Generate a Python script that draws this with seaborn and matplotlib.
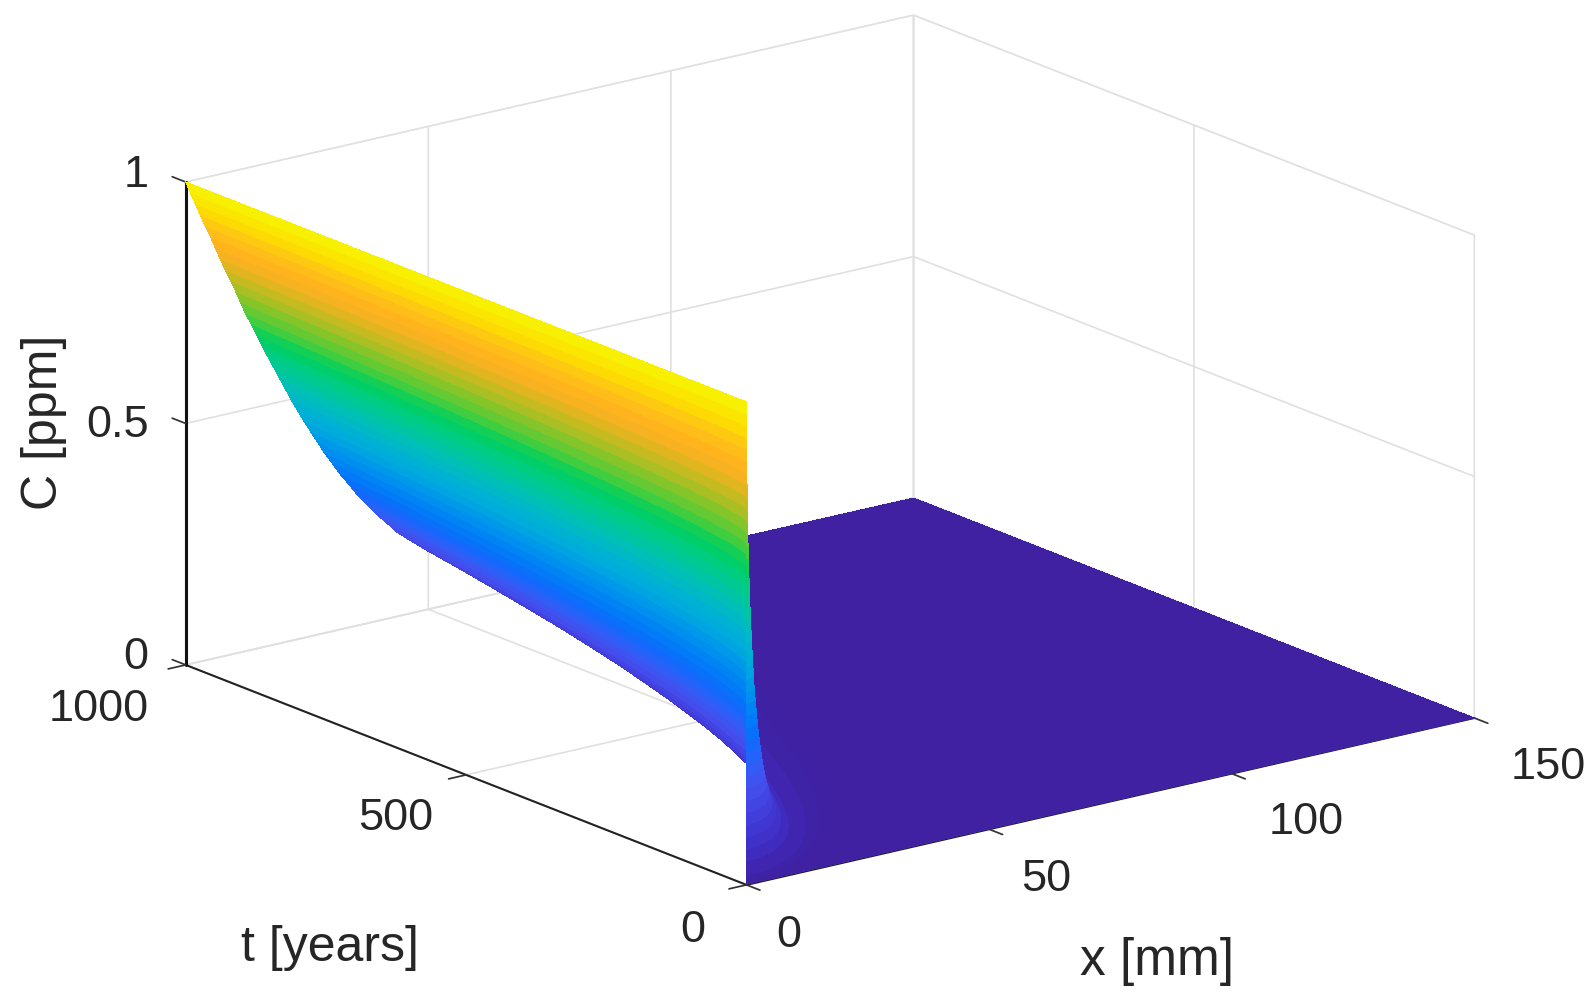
import numpy as np
import matplotlib
matplotlib.use("Agg")
import matplotlib.pyplot as plt
from mpl_toolkits.mplot3d import proj3d
import seaborn as sns

# concentration levels and how deep each one has reached at t = 1000 years
conc_levels = [1.0, 0.975, 0.95, 0.925, 0.9, 0.875, 0.85, 0.825, 0.8, 0.775, 0.75, 0.725, 0.7,
               0.675, 0.65, 0.625, 0.6, 0.575, 0.55, 0.525, 0.5, 0.475, 0.45, 0.425, 0.4,
               0.375, 0.35, 0.325, 0.3, 0.275, 0.25, 0.225, 0.2, 0.175, 0.15, 0.125, 0.1,
               0.075, 0.05, 0.02, 0.01, 0.005, 0.001]
depth_1000 = [0.0, 1.0, 2.0, 3.0, 4.0, 5.1, 6.1, 7.1, 8.1, 9.2, 10.3, 11.3, 12.3,
              13.5, 14.6, 15.7, 16.9, 18.1, 19.3, 20.5, 21.7, 23.0, 24.3, 25.7, 27.1,
              28.5, 30.1, 31.6, 33.4, 35.1, 37.0, 39.0, 41.3, 43.5, 46.4, 49.4, 53.0,
              57.3, 63.0, 74.8, 82.9, 90.3, 105.8]

# time rows and the width of the front at that time, relative to t = 1000
t_years = [0, 1, 2, 5, 10, 20, 30, 50, 75, 100, 150, 200, 250, 300, 350, 400, 450, 500,
           550, 600, 650, 700, 750, 800, 850, 900, 950, 1000]
front_width = [0.0, 0.032, 0.045, 0.071, 0.100, 0.141, 0.173, 0.224, 0.274, 0.316, 0.387, 0.447,
               0.500, 0.548, 0.592, 0.632, 0.671, 0.707, 0.742, 0.775, 0.806, 0.837, 0.866,
               0.894, 0.922, 0.949, 0.975, 1.0]

x_ticks = [0, 50, 100, 150]
x_tick_labels = ['0', '50', '100', '150']
t_ticks = [0, 500, 1000]
t_tick_labels = ['0', '500', '1000']
c_ticks = [0, 0.5, 1]
c_tick_labels = ['0', '0.5', '1']

# colours seen on the surface, low to high concentration
surface_colors = ['#3F21A2', '#3F28B8', '#4034CE', '#4242E0', '#4450EE', '#2C60F8', '#0A6CFC',
                  '#0080F6', '#0094EC', '#00A8DE', '#00B6CC', '#00C2B0', '#00CC88', '#00D060',
                  '#50CC38', '#98C224', '#D4B820', '#FFB020', '#FFC018', '#FCE000', '#F5F500']

sns.set_theme(style="white", rc={'grid.color': '#e0e0e0', 'grid.linewidth': 1.2})
plt.rcParams['font.family'] = ['Liberation Sans', 'DejaVu Sans']
cmap = sns.blend_palette(surface_colors, n_colors=256, as_cmap=True)

# surface mesh: one column per level, with the far edge of the domain closing each row
X = np.outer(front_width, depth_1000)
X = np.hstack([X, np.full((len(t_years), 1), 150.0)])
T = np.tile(np.array(t_years, dtype=float).reshape(-1, 1), (1, X.shape[1]))
Z = np.tile(np.array(conc_levels + [0.0]), (len(t_years), 1))

fig = plt.figure(figsize=(15.94, 10.02), dpi=100)
ax = fig.add_axes([316.5 / 1594, 38.5 / 1002, 1000 / 1594, 1000 / 1002], projection='3d')
ax.set_proj_type('ortho')
ax.view_init(elev=17.45, azim=-127.4)
ax.set_box_aspect((1.81, 1.824, 1), zoom=1.355)

surf = ax.plot_surface(X, T, Z, cmap=cmap, vmin=0, vmax=1, rstride=1, cstride=1,
                       shade=False, antialiased=False, linewidth=0)
surf.set_clip_on(False)

ax.set_xlim(0, 150, view_margin=0)
ax.set_ylim(0, 1000, view_margin=0)
ax.set_zlim(0, 1, view_margin=0)

ax.set_xticks(x_ticks)
ax.set_yticks(t_ticks)
ax.set_zticks(c_ticks)
ax.set_xticklabels([])
ax.set_yticklabels([])
ax.set_zticklabels([])
ax.tick_params(colors='#333333')

for axis in (ax.xaxis, ax.yaxis, ax.zaxis):
    axis.pane.set_facecolor((1, 1, 1, 0))
    axis.pane.set_edgecolor('#e0e0e0')
    axis.line.set_color('#222222')
    axis.line.set_linewidth(1.5)
    axis._axinfo['tick']['inward_factor'] = 0.0
    axis._axinfo['tick']['outward_factor'] = -0.3
ax.zaxis._get_tickdir = lambda position: 1
ax.zaxis._axinfo['tick']['outward_factor'] = 0.3
ax.zaxis.line.set_color('#111111')
ax.zaxis.line.set_linewidth(2.2)

# tick labels sit at fixed pixel offsets from their ticks on the axis edges
def tick_text(text, x, t, c, dx, dy, ha):
    px, py, _ = proj3d.proj_transform(x, t, c, ax.get_proj())
    ax.annotate(text, (px, py), xytext=(dx, dy), textcoords='offset pixels', ha=ha, va='center',
                fontsize=32.5, color='#262626', annotation_clip=False)

for val, lab, dx, dy in zip(x_ticks, x_tick_labels, [42, 57, 74, 74], [-51, -50, -49, -50]):
    tick_text(lab, val, 0, 0, dx, dy, 'center')
for val, lab, dx, dy in zip(t_ticks, t_tick_labels, [-41, -33, -37], [-46, -44, -45]):
    tick_text(lab, 0, val, 0, dx, dy, 'right')
for val, lab, dy in zip(c_ticks, c_tick_labels, [7, -2, 6]):
    tick_text(lab, 0, 1000, val, -37, dy, 'right')

fig.text(1157 / 1594, 1 - 961 / 1002, 'x [mm]', fontsize=37, color='#262626', ha='center', va='center')
fig.text(330 / 1594, 1 - 948 / 1002, 't [years]', fontsize=36, color='#262626', ha='center', va='center')
fig.text(44 / 1594, 1 - 422 / 1002, 'C [ppm]', fontsize=36, color='#262626', ha='center', va='center',
         rotation=90)

fig.savefig('out.png', dpi=100, facecolor='white')
